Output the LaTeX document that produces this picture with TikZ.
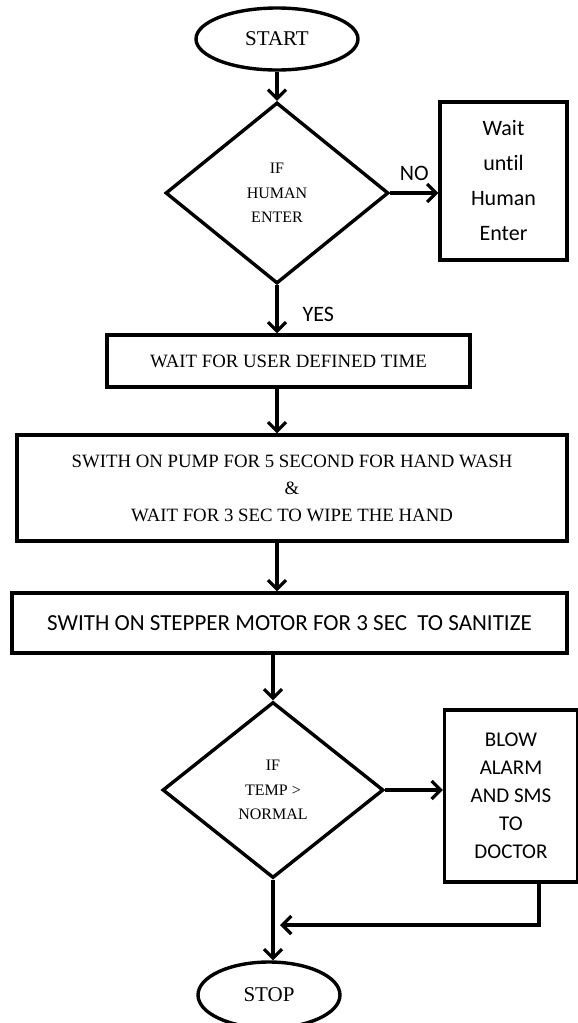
\documentclass[tikz,border=0pt]{standalone}
\usepackage{fontspec}
\setmainfont{Liberation Serif}
\newfontfamily\carl[Ligatures=NoCommon]{Carlito}
\usetikzlibrary{shapes.geometric,arrows.meta}
\begin{document}
\begin{tikzpicture}[x=1pt,y=-1pt,
 base/.style={draw,line width=3.4pt,inner sep=0pt,align=center},
 term/.style={base,ellipse,font=\fontsize{21}{25}\selectfont},
 dec/.style={base,diamond,font=\fontsize{16}{24.5}\selectfont},
 proc/.style={base,rectangle,font=\fontsize{18.8}{27}\selectfont},
 sproc/.style={base,rectangle,font=\carl\fontsize{22}{35}\selectfont},
 arr/.style={line width=3.4pt,-{Straight Barb[length=9pt,width=18pt,line width=3.2pt]}},
 lbl/.style={font=\carl\fontsize{22}{26}\selectfont,inner sep=0pt}
]
\useasboundingbox (0,0) rectangle (578,1023);
\node[term,minimum width=162,minimum height=62] (start) at (277,39) {START};
\node[dec,minimum width=223,minimum height=181] (d1) at (277,193) {IF\\HUMAN\\ENTER};
\node[sproc,minimum width=127,minimum height=158] (wait) at (503.5,181) {Wait\\until\\Human\\Enter};
\node[proc,minimum width=363,minimum height=52] (b1) at (288.5,361) {WAIT FOR USER DEFINED TIME};
\node[proc,minimum width=550,minimum height=106] (b2) at (292,488) {SWITH ON PUMP FOR 5 SECOND FOR HAND WASH\\\&\\WAIT FOR 3 SEC TO WIPE THE HAND};
\node[sproc,font=\carl\fontsize{23}{28}\selectfont,minimum width=555,minimum height=60] (b3) at (289.5,623) {SWITH ON STEPPER MOTOR FOR 3 SEC\ \ TO SANITIZE};
\node[dec,minimum width=221,minimum height=176] (d2) at (273,790) {IF\\TEMP >\\NORMAL};
\node[sproc,font=\carl\fontsize{21}{28}\selectfont,minimum width=133,minimum height=172] (alarm) at (511,796) {BLOW\\ALARM\\AND SMS\\TO\\DOCTOR};
\node[term,minimum width=142,minimum height=66] (stop) at (269,995) {STOP};
\coordinate (m) at (274,925);

\draw[arr] (start) -- (d1.north);
\draw[arr] (d1.east) -- (d1.east -| wait.west) node[lbl,midway,above=11pt] {NO};
\draw[arr] (d1.south) -- (d1.south |- b1.north) node[lbl,pos=0.6,right=24pt] {YES};
\draw[arr] (b1.south -| d1.south) -- (b2.north -| d1.south);
\draw[arr] (b2.south -| d1.south) -- (b3.north -| d1.south);
\draw[arr] (b3.south -| d2.north) -- (d2.north);
\draw[arr] (d2.east) -- (d2.east -| alarm.west);
\draw[arr,shorten >=6pt] ([xshift=28pt]alarm.south) |- (m);
\draw[arr] (d2.south) -- (d2.south |- stop.north);
\end{tikzpicture}
\end{document}
